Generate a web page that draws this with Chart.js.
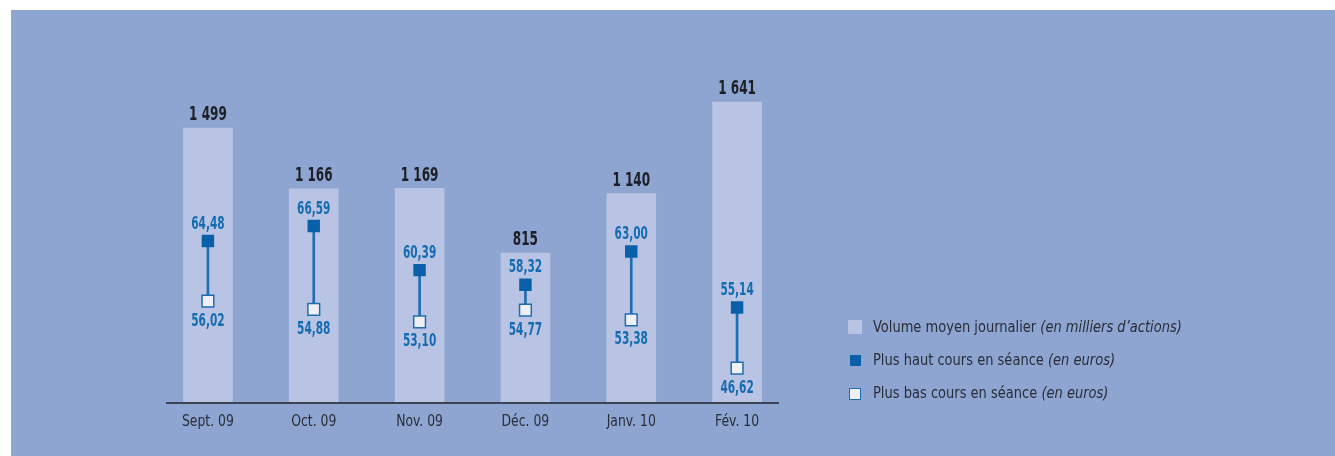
<!DOCTYPE html>
<html lang="fr">
<head>
<meta charset="utf-8">
<script src="https://cdn.jsdelivr.net/npm/chart.js@4/dist/chart.umd.min.js"></script>
<style>
  html, body { margin: 0; padding: 0; background: #fff; }
  body { width: 1335px; height: 456px; position: relative; overflow: hidden; }
  #panel { position: absolute; left: 11px; top: 10px; width: 1324px; height: 446px; background: #8DA5D0; }
  #wrap { position: absolute; left: 0; top: 0; width: 1324px; height: 446px; }
  #legend { position: absolute; left: 837px; top: 307px; font-family: "DejaVu Sans Condensed", "Liberation Sans Narrow", sans-serif; font-size: 15.5px; color: #2a2d38; }
  #legend div { height: 33px; line-height: 20px; position: relative; padding-left: 25px; }
  #legend .txt { display: inline-block; transform: scaleX(0.935); transform-origin: left center; white-space: nowrap; }
  #legend span.box { position: absolute; left: 0; top: 3px; width: 14px; height: 14px; box-sizing: border-box; }
  #legend i { font-style: italic; }
</style>
</head>
<body>
<div id="panel">
  <div id="wrap"><canvas id="myChart" width="1324" height="446"></canvas></div>
  <div id="legend">
    <div><span class="box" style="background:#B9C4E4"></span><span class="txt">Volume moyen journalier <i>(en milliers d’actions)</i></span></div>
    <div><span class="box" style="background:#0A60A8;left:2px;top:5px;width:11px;height:11px"></span><span class="txt">Plus haut cours en séance <i>(en euros)</i></span></div>
    <div><span class="box" style="background:#EEF0F6;border:1.5px solid #1E6DB0;left:1px;top:5px;width:12px;height:12px"></span><span class="txt">Plus bas cours en séance <i>(en euros)</i></span></div>
  </div>
</div>
<script>
const months = ['Sept. 09', 'Oct. 09', 'Nov. 09', 'Déc. 09', 'Janv. 10', 'Fév. 10'];
const volumes = [1499, 1166, 1169, 815, 1140, 1641];
const highs = [64.48, 66.59, 60.39, 58.32, 63.00, 55.14];
const lows = [56.02, 54.88, 53.10, 54.77, 53.38, 46.62];

const FONT = '"DejaVu Sans Condensed", "Liberation Sans Narrow", sans-serif';

// 1499 -> "1 499", 64.48 -> "64,48"
const fmtVol = v => String(v).replace(/\B(?=(\d{3})+(?!\d))/g, ' ');
const fmtPrice = v => v.toFixed(2).replace('.', ',');

// narrow text: squeeze horizontally around the anchor point
function narrowText(ctx, text, x, y, sx) {
  ctx.save();
  ctx.translate(x, y);
  ctx.scale(sx, 1);
  ctx.fillText(text, 0, 0);
  ctx.restore();
}

// value labels, month labels and the short x axis rule
const labelPlugin = {
  id: 'valueLabels',
  afterDatasetsDraw(chart) {
    const ctx = chart.ctx;
    const area = chart.chartArea;
    ctx.save();
    ctx.textAlign = 'center';
    ctx.textBaseline = 'middle';

    ctx.font = 'bold 20px ' + FONT;
    ctx.fillStyle = '#1d1f26';
    chart.getDatasetMeta(0).data.forEach((bar, i) => {
      narrowText(ctx, fmtVol(volumes[i]), bar.x, bar.y - 13, 0.67);
    });

    ctx.font = 'bold 17.5px ' + FONT;
    ctx.fillStyle = '#156BB0';
    chart.getDatasetMeta(2).data.forEach((pt, i) => {
      narrowText(ctx, fmtPrice(highs[i]), pt.x, pt.y - 17, 0.67);
    });
    chart.getDatasetMeta(3).data.forEach((pt, i) => {
      narrowText(ctx, fmtPrice(lows[i]), pt.x, pt.y + 20, 0.67);
    });

    ctx.font = '15px ' + FONT;
    ctx.fillStyle = '#2a2d38';
    const xs = chart.scales.x;
    months.forEach((m, i) => {
      narrowText(ctx, m, xs.getPixelForValue(i), area.bottom + 20, 0.92);
    });

    ctx.strokeStyle = '#3C4352';
    ctx.lineWidth = 2;
    ctx.beginPath();
    ctx.moveTo(area.left + 11, area.bottom + 1);
    ctx.lineTo(area.right - 11, area.bottom + 1);
    ctx.stroke();
    ctx.restore();
  }
};

const ctx = document.getElementById('myChart').getContext('2d');
const chartJS = new Chart(ctx, {
  type: 'bar',
  data: {
    labels: months,
    datasets: [
      {
        label: 'Volume moyen journalier',
        data: volumes,
        yAxisID: 'yVol',
        backgroundColor: '#B9C4E4',
        barThickness: 49,
        grouped: false,
        order: 4
      },
      {
        label: 'Écart',
        data: lows.map((l, i) => [l, highs[i]]),
        yAxisID: 'yPrice',
        backgroundColor: '#1E6DB0',
        barThickness: 2,
        grouped: false,
        order: 3
      },
      {
        type: 'line',
        label: 'Plus haut cours en séance',
        data: highs,
        yAxisID: 'yPrice',
        showLine: false,
        pointStyle: 'rect',
        pointRadius: 8.8,
        pointBackgroundColor: '#0A60A8',
        pointBorderColor: '#0A60A8',
        pointBorderWidth: 0,
        order: 1
      },
      {
        type: 'line',
        label: 'Plus bas cours en séance',
        data: lows,
        yAxisID: 'yPrice',
        showLine: false,
        pointStyle: 'rect',
        pointRadius: 8.3,
        pointBackgroundColor: '#EEF0F6',
        pointBorderColor: '#1E6DB0',
        pointBorderWidth: 1.5,
        order: 2
      }
    ]
  },
  options: {
    responsive: false,
    animation: false,
    layout: { padding: { left: 144, right: 545, top: 52, bottom: 54 } },
    plugins: { legend: { display: false }, tooltip: { enabled: false } },
    scales: {
      x: {
        grid: { display: false, drawTicks: false },
        border: { display: false },
        ticks: { display: false }
      },
      yVol: {
        position: 'left',
        min: 0,
        max: 1860,
        display: false
      },
      yPrice: {
        position: 'right',
        min: 41.84,
        max: 89.66,
        display: false
      }
    }
  },
  plugins: [labelPlugin]
});
</script>
</body>
</html>
